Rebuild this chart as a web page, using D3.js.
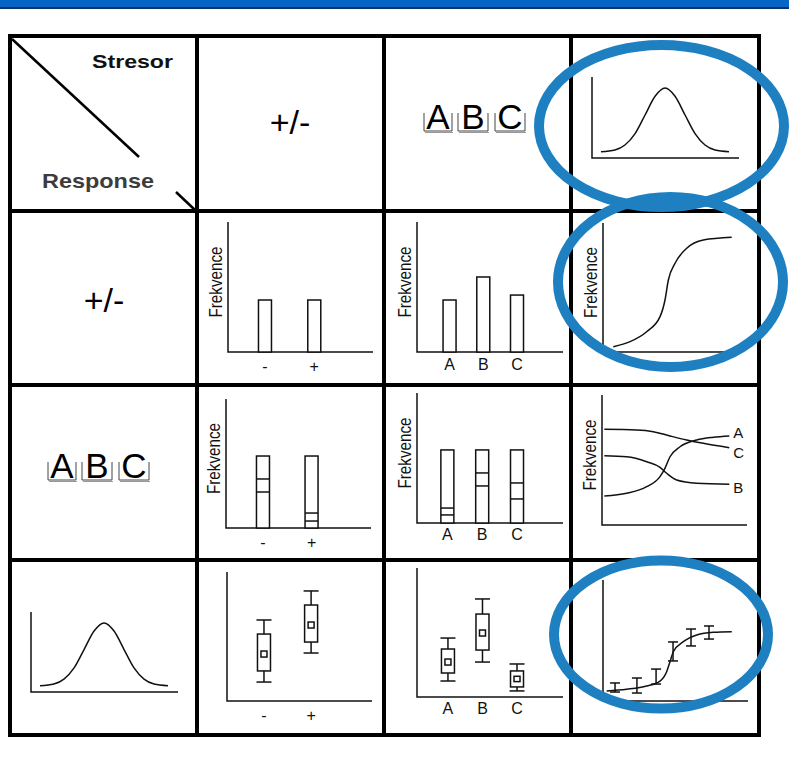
<!DOCTYPE html>
<html><head><meta charset="utf-8">
<script src="https://cdn.jsdelivr.net/npm/d3@7"></script>
<style>html,body{margin:0;padding:0;background:#fff;} svg{display:block;}</style>
</head><body><svg id="c" width="789" height="761"></svg>
<script>
// ---------- DATA (all values in 0-100 panel units) ----------
const pmCategories = ['-', '+'];
const abcCategories = ['A', 'B', 'C'];
const headerSymbol = '+/-';
const cornerTop = 'Stresor';
const cornerBottom = 'Response';
const axisTitle = 'Frekvence';

// bars: binary stressor / binary response
const pmBarValues = [40, 40];
// bars: categorical stressor / binary response
const abcBarValues = [40, 57.7, 43.8];
// stacked bars: binary stressor / categorical response
const pmStackTotal = [55.8, 55.8];
const pmStackUpper = [38.0, 11.6];
const pmStackLower = [27.9, 5.4];
// stacked bars: categorical stressor / categorical response
const abcStackTotal = [56.2, 56.2, 56.2];
const abcStackUpper = [11.5, 38.5, 30.8];
const abcStackLower = [6.2, 28.5, 18.5];
// box plots: binary stressor / continuous response
const pmWhiskerHigh = [62.8, 85.3];
const pmQ3 = [51.9, 74.4];
const pmMedian = [36.4, 58.9];
const pmQ1 = [23.3, 45.7];
const pmWhiskerLow = [14.7, 37.2];
// box plots: categorical stressor / continuous response
const abcWhiskerHigh = [45.7, 76.0, 25.6];
const abcQ3 = [37.2, 64.3, 20.2];
const abcMedian = [27.1, 49.6, 14.0];
const abcQ1 = [18.6, 36.4, 7.8];
const abcWhiskerLow = [12.4, 27.1, 4.7];
// bell-shaped distribution
const bellX = [6.1, 15.6, 22.4, 29.3, 36.1, 42.9, 49.7, 56.5, 63.3, 70.1, 76.9, 83.7, 93.2];
const bellY = [7.7, 9.9, 16.0, 30.1, 53.1, 76.2, 86.4, 76.2, 53.1, 30.1, 16.0, 9.9, 7.8];
// sigmoid (continuous stressor / binary response)
const sigmoidX = [8.3, 21.8, 35.2, 46.0, 50.0, 52.7, 58.1, 67.5, 80.9, 103.8];
const sigmoidY = [4.1, 8.0, 15.7, 27.4, 40.3, 55.8, 68.8, 80.4, 86.8, 88.9];
// three response curves (continuous stressor / categorical response)
const lineLabels = ['A', 'C', 'B'];
const curveAX = [1.6, 17.0, 30.8, 40.0, 43.4, 46.9, 53.8, 65.3, 76.8, 87.8];
const curveAY = [22.3, 24.4, 29.5, 37.2, 43.6, 52.5, 60.2, 65.4, 67.5, 68.5];
const curveCX = [1.6, 23.9, 35.4, 46.9, 58.4, 69.9, 87.8];
const curveCY = [73.6, 73.1, 71.8, 68.5, 65.4, 62.8, 59.5];
const curveBX = [1.6, 17.0, 30.8, 40.0, 44.6, 51.5, 65.3, 87.8];
const curveBY = [53.3, 52.5, 48.7, 44.4, 39.8, 34.6, 32.1, 31.3];
// dose-response with error bars (continuous / continuous)
const doseCurveX = [2.5, 16.3, 30.1, 39.3, 43.9, 46.2, 48.5, 55.4, 64.6, 76.1, 88.8];
const doseCurveY = [8.3, 9.7, 12.4, 16.5, 24.2, 32.5, 40.7, 49.0, 54.5, 56.8, 57.3];
const doseErrX = [8.3, 23.4, 36.6, 48.3, 60.7, 73.1];
const doseErrLow = [7.4, 6.6, 14.0, 33.1, 45.5, 51.2];
const doseErrHigh = [14.9, 19.0, 26.4, 48.8, 59.5, 62.0];

// ---------- LAYOUT ----------
const FONT = '"Liberation Sans", Arial, Helvetica, sans-serif';
const INK = '#111';
const BLUE = '#1f80c1';
const svg = d3.select('#c');

svg.append('rect').attr('x', 0).attr('y', 0).attr('width', 789).attr('height', 7).attr('fill', '#0564c6');
svg.append('rect').attr('x', 0).attr('y', 7).attr('width', 789).attr('height', 2).attr('fill', '#0c2f6e');

const gridX = [10, 197, 384, 571, 759];
const gridY = [36, 211, 385, 560, 735];
const grid = svg.append('g').attr('stroke', '#000').attr('stroke-width', 4);
gridY.forEach(y => grid.append('line').attr('x1', gridX[0] - 2).attr('x2', gridX[4] + 2).attr('y1', y).attr('y2', y));
gridX.forEach(x => grid.append('line').attr('x1', x).attr('x2', x).attr('y1', gridY[0] - 2).attr('y2', gridY[4] + 2));

// corner cell
const corner = svg.append('g');
corner.append('line').attr('x1', 12).attr('y1', 39).attr('x2', 139).attr('y2', 157).attr('stroke', '#000').attr('stroke-width', 2.5);
corner.append('line').attr('x1', 176).attr('y1', 192).attr('x2', 195).attr('y2', 210).attr('stroke', '#000').attr('stroke-width', 2.5);
corner.append('text').attr('x', 92).attr('y', 68).attr('font-family', FONT).attr('font-weight', 'bold')
  .attr('font-size', 19).attr('textLength', 81).attr('lengthAdjust', 'spacingAndGlyphs').attr('fill', '#111').text(cornerTop);
corner.append('text').attr('x', 42).attr('y', 188).attr('font-family', FONT).attr('font-weight', 'bold')
  .attr('font-size', 21).attr('textLength', 112).attr('lengthAdjust', 'spacingAndGlyphs').attr('fill', '#3c3c3c').text(cornerBottom);

// big header symbols
function bigSymbol(cx, cy) {
  svg.append('text').attr('x', cx).attr('y', cy).attr('text-anchor', 'middle').attr('dominant-baseline', 'central')
    .attr('font-family', FONT).attr('font-size', 34).attr('fill', '#000').text(headerSymbol);
}
bigSymbol(290, 122);
bigSymbol(104, 300);

function boxedLetters(x0, baseline) {
  const widths = [28, 30, 30], gaps = [0, 6, 7];
  let x = x0;
  const g = svg.append('g');
  abcCategories.forEach((c, i) => {
    x += gaps[i];
    const w = widths[i];
    g.append('path').attr('d', `M${x},${baseline - 16}V${baseline + 2}H${x + w}V${baseline - 16}`)
      .attr('fill', 'none').attr('stroke', '#444').attr('stroke-width', 1);
    g.append('line').attr('x1', x + 1).attr('x2', x + w + 1).attr('y1', baseline + 3.5).attr('y2', baseline + 3.5)
      .attr('stroke', '#999').attr('stroke-width', 1);
    g.append('text').attr('x', x + w / 2).attr('y', baseline).attr('text-anchor', 'middle')
      .attr('font-family', FONT).attr('font-size', 35).attr('fill', '#000').text(c);
    x += w;
  });
}
boxedLetters(424, 129);
boxedLetters(48, 478);

// ---------- panels ----------
function panel(b) {
  const x = d3.scaleLinear().domain([0, 100]).range([b.x0, b.x1]);
  const y = d3.scaleLinear().domain([0, 100]).range([b.y1, b.y0]);
  const g = svg.append('g');
  g.append('path').attr('d', `M${x(0)},${y(100)}V${y(0)}H${x(100)}`)
    .attr('fill', 'none').attr('stroke', INK).attr('stroke-width', 1.5);
  return { x, y, g };
}
function yTitle(p) {
  const bx = p.x(0) - 6.5, cy = (p.y(0) + p.y(100)) / 2 - 5;
  p.g.append('text').attr('transform', `translate(${bx},${cy}) rotate(-90)`).attr('text-anchor', 'middle')
    .attr('font-family', FONT).attr('font-size', 18).attr('textLength', 71).attr('lengthAdjust', 'spacingAndGlyphs')
    .attr('fill', '#111').text(axisTitle);
}
function catLabels(p, xs, cats, dy) {
  cats.forEach(c => p.g.append('text').attr('x', xs(c)).attr('y', p.y(0) + dy).attr('text-anchor', 'middle')
    .attr('font-family', FONT).attr('font-size', 16).attr('fill', '#111').text(c));
}
function curve(p, xs, ys) {
  const pts = xs.map((v, i) => [v, ys[i]]);
  p.g.append('path').datum(pts)
    .attr('d', d3.line().x(d => p.x(d[0])).y(d => p.y(d[1])).curve(d3.curveMonotoneX))
    .attr('fill', 'none').attr('stroke', INK).attr('stroke-width', 1.5);
}
function bars(p, xs, cats, vals) {
  cats.forEach((c, i) => p.g.append('rect').attr('x', xs(c) - 6.5).attr('width', 13)
    .attr('y', p.y(vals[i])).attr('height', p.y(0) - p.y(vals[i]))
    .attr('fill', '#fff').attr('stroke', INK).attr('stroke-width', 1.5));
}
function splits(p, xs, cats, a, b) {
  cats.forEach((c, i) => [a[i], b[i]].forEach(v => p.g.append('line')
    .attr('x1', xs(c) - 6.5).attr('x2', xs(c) + 6.5).attr('y1', p.y(v)).attr('y2', p.y(v))
    .attr('stroke', INK).attr('stroke-width', 1.5)));
}
function boxes(p, xs, cats, hi, q3, med, q1, lo) {
  cats.forEach((c, i) => {
    const cx = xs(c);
    const g = p.g.append('g').attr('stroke', INK).attr('stroke-width', 1.5).attr('fill', '#fff');
    g.append('line').attr('x1', cx).attr('x2', cx).attr('y1', p.y(hi[i])).attr('y2', p.y(lo[i]));
    [hi[i], lo[i]].forEach(v => g.append('line').attr('x1', cx - 7.5).attr('x2', cx + 7.5).attr('y1', p.y(v)).attr('y2', p.y(v)));
    g.append('rect').attr('x', cx - 6.5).attr('width', 13).attr('y', p.y(q3[i])).attr('height', p.y(q1[i]) - p.y(q3[i]));
    const s = Math.min(6, (p.y(q1[i]) - p.y(q3[i])) / 3);
    g.append('rect').attr('x', cx - 3).attr('width', 6).attr('y', p.y(med[i]) - s / 2).attr('height', s);
  });
}

// row 0 col 3 : distribution
const p03 = panel({ x0: 592, x1: 739, y0: 77, y1: 158 });
curve(p03, bellX, bellY);

// row 1 col 1
const p11 = panel({ x0: 228, x1: 373, y0: 222, y1: 352 });
const x11 = d3.scalePoint().domain(pmCategories).range([p11.x(25.5), p11.x(59.5)]);
yTitle(p11); bars(p11, x11, pmCategories, pmBarValues); catLabels(p11, x11, pmCategories, 20);

// row 1 col 2
const p12 = panel({ x0: 417, x1: 563, y0: 222, y1: 352 });
const x12 = d3.scalePoint().domain(abcCategories).range([p12.x(22.3), p12.x(68.5)]);
yTitle(p12); bars(p12, x12, abcCategories, abcBarValues); catLabels(p12, x12, abcCategories, 18);

// row 1 col 3
const p13 = panel({ x0: 603, x1: 727, y0: 223, y1: 352 });
yTitle(p13); curve(p13, sigmoidX, sigmoidY);

// row 2 col 1
const p21 = panel({ x0: 226, x1: 371, y0: 399, y1: 528 });
const x21 = d3.scalePoint().domain(pmCategories).range([p21.x(25.5), p21.x(59)]);
yTitle(p21); bars(p21, x21, pmCategories, pmStackTotal); splits(p21, x21, pmCategories, pmStackUpper, pmStackLower);
catLabels(p21, x21, pmCategories, 20);

// row 2 col 2
const p22 = panel({ x0: 417, x1: 563, y0: 393, y1: 523 });
const x22 = d3.scalePoint().domain(abcCategories).range([p22.x(20.8), p22.x(68.5)]);
yTitle(p22); bars(p22, x22, abcCategories, abcStackTotal); splits(p22, x22, abcCategories, abcStackUpper, abcStackLower);
catLabels(p22, x22, abcCategories, 17);

// row 2 col 3
const p23 = panel({ x0: 602, x1: 747, y0: 395, y1: 525 });
yTitle(p23);
const lineSets = [[curveAX, curveAY, -3], [curveCX, curveCY, 5], [curveBX, curveBY, 3]];
lineSets.forEach(([xs, ys, dy], i) => {
  curve(p23, xs, ys);
  p23.g.append('text').attr('x', p23.x(xs[xs.length - 1]) + 4).attr('y', p23.y(ys[ys.length - 1]) + dy)
    .attr('dominant-baseline', 'central').attr('font-family', FONT).attr('font-size', 15).attr('fill', '#111').text(lineLabels[i]);
});

// row 3 col 0 : distribution
const p30 = panel({ x0: 31, x1: 178, y0: 612, y1: 692 });
curve(p30, bellX, bellY);

// row 3 col 1
const p31 = panel({ x0: 227, x1: 372, y0: 572, y1: 701 });
const x31 = d3.scalePoint().domain(pmCategories).range([p31.x(25.5), p31.x(58)]);
boxes(p31, x31, pmCategories, pmWhiskerHigh, pmQ3, pmMedian, pmQ1, pmWhiskerLow);
catLabels(p31, x31, pmCategories, 20);

// row 3 col 2
const p32 = panel({ x0: 417, x1: 563, y0: 568, y1: 697 });
const x32 = d3.scalePoint().domain(abcCategories).range([p32.x(21.2), p32.x(68.5)]);
boxes(p32, x32, abcCategories, abcWhiskerHigh, abcQ3, abcMedian, abcQ1, abcWhiskerLow);
catLabels(p32, x32, abcCategories, 17);

// row 3 col 3
const p33 = panel({ x0: 603, x1: 748, y0: 580, y1: 701 });
curve(p33, doseCurveX, doseCurveY);
doseErrX.forEach((v, i) => {
  const cx = p33.x(v), g = p33.g.append('g').attr('stroke', INK).attr('stroke-width', 1.5);
  g.append('line').attr('x1', cx).attr('x2', cx).attr('y1', p33.y(doseErrHigh[i])).attr('y2', p33.y(doseErrLow[i]));
  [doseErrHigh[i], doseErrLow[i]].forEach(e => g.append('line').attr('x1', cx - 5).attr('x2', cx + 5).attr('y1', p33.y(e)).attr('y2', p33.y(e)));
});

// ---------- highlight ellipses ----------
const ellipses = [
  { cx: 661.5, cy: 126, rx: 122.5, ry: 81 },
  { cx: 670.5, cy: 282, rx: 112.5, ry: 85 },
  { cx: 661, cy: 634.5, rx: 107, ry: 74 }
];
svg.append('g').selectAll('ellipse').data(ellipses).join('ellipse')
  .attr('cx', d => d.cx).attr('cy', d => d.cy).attr('rx', d => d.rx).attr('ry', d => d.ry)
  .attr('fill', 'none').attr('stroke', BLUE).attr('stroke-width', 10);
</script></body></html>
